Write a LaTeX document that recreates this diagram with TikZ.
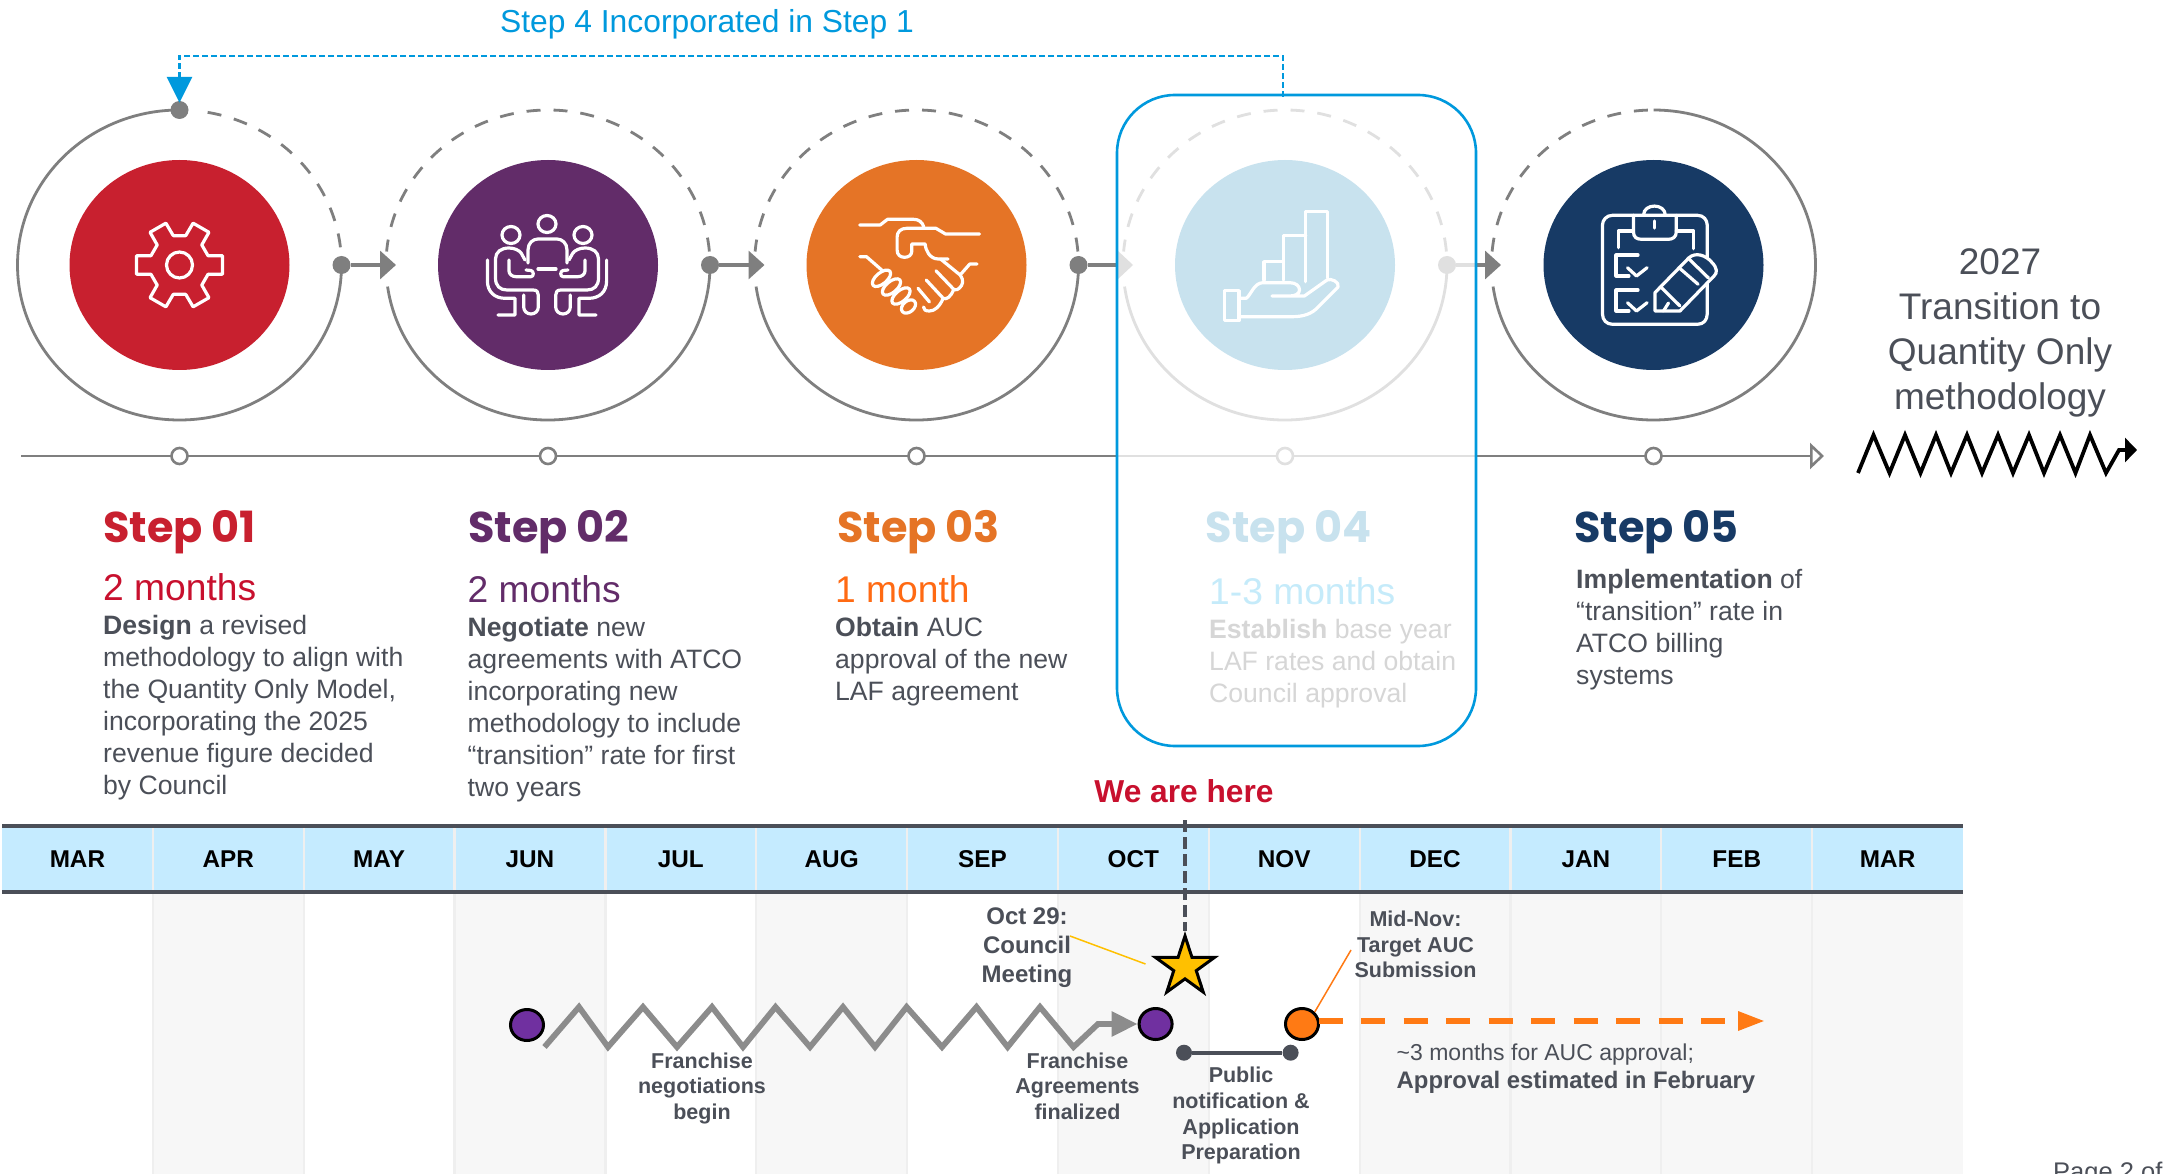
\documentclass[tikz,border=0pt]{standalone}
\usepackage{fontspec}
\setmainfont{Liberation Sans}
\newfontfamily\headfont{Poppins}
\usetikzlibrary{arrows.meta,shapes.geometric,calc}
\definecolor{ink}{HTML}{4B4F58}
\definecolor{ringgray}{HTML}{7F7F7F}
\definecolor{fade}{HTML}{E0E0E0}
\definecolor{bluebox}{HTML}{0099DD}
\definecolor{sred}{HTML}{C8202F}
\definecolor{spurple}{HTML}{622C69}
\definecolor{sorange}{HTML}{E57426}
\definecolor{spale}{HTML}{C8E2EE}
\definecolor{snavy}{HTML}{173A65}
\definecolor{mred}{HTML}{C8102E}
\definecolor{morange}{HTML}{FF6A13}
\definecolor{mpale}{HTML}{C5EBFA}
\definecolor{header}{HTML}{C5EBFF}
\definecolor{colshade}{HTML}{F7F7F7}
\definecolor{colsep}{HTML}{EFEFEF}
\definecolor{dotpurple}{HTML}{7030A0}
\definecolor{dotorange}{HTML}{FF7A14}
\definecolor{starfill}{HTML}{FFC000}
\newcommand{\fsz}[2]{\fontsize{#1}{#2}\selectfont}
\tikzset{
  x=1pt,y=-1pt,
  blob/.style={ellipse,minimum width=220pt,minimum height=210pt,inner sep=0pt},
  ringdot/.style={circle,minimum size=18pt,inner sep=0pt,fill=#1},
  axisdot/.style={circle,minimum size=16pt,inner sep=0pt,fill=white,draw=#1,line width=2.6pt},
  ring/.style={line width=2.8pt,draw=#1},
  ringdash/.style={line width=2.8pt,draw=#1,dash pattern=on 14pt off 13pt},
  conn/.style={line width=3.4pt,draw=#1},
  ic/.style={draw=white,line width=3.2pt,line join=round,line cap=round},
  stephead/.style={anchor=base west,inner sep=0pt,font=\headfont\bfseries\fsz{43}{46}},
  months/.style={anchor=base west,inner sep=0pt,font=\fsz{37.2}{40}},
  body/.style={anchor=base west,inner sep=0pt,align=left,font=\fsz{26.6}{32}},
  month/.style={inner sep=0pt,font=\bfseries\fsz{24.3}{28},text=black},
  note/.style={inner sep=0pt,align=center,anchor=base,text=ink,font=\bfseries\fsz{21.5}{25.7}},
  bigdot/.style={ellipse,minimum width=33pt,minimum height=31pt,inner sep=0pt,draw=black,line width=3pt,fill=#1},
  enddot/.style={circle,minimum size=16pt,inner sep=0pt,fill=ink},
}
\begin{document}
\begin{tikzpicture}
\clip (0,0) rectangle (2164,1174);
\fill[white] (0,0) rectangle (2164,1174);

% ---------- timeline columns
\foreach \i in {1,3,5,7,9,10,11,12}{
  \fill[colshade] ({2+150.85*\i},892) rectangle ({2+150.85*(\i+1)},1174);
}
\foreach \i in {1,...,12}{
  \draw[colsep,line width=2.2pt] ({2+150.85*\i},892) -- ({2+150.85*\i},1174);
}
\fill[header] (2,826) rectangle (1963,892);
\foreach \i in {1,...,12}{
  \draw[colsep,line width=2.2pt] ({2+150.85*\i},826) -- ({2+150.85*\i},892);
}
\draw[ink,line width=3.6pt] (2,826) -- (1963,826);
\draw[ink,line width=3.6pt] (2,892) -- (1963,892);
\foreach \n [count=\k from 0] in {MAR,APR,MAY,JUN,JUL,AUG,SEP,OCT,NOV,DEC,JAN,FEB,MAR}{
  \node[month] (m\k) at ({2+150.85*(\k+0.5)},859.5) {\n};
}

% ---------- centres and blobs
\node[blob,fill=sred] (c1) at (179.5,265) {};
\node[blob,fill=spurple] (c2) at (548,265) {};
\node[blob,fill=sorange] (c3) at (916.5,265) {};
\node[blob,fill=spale] (c4) at (1285,265) {};
\node[blob,fill=snavy] (c5) at (1653.5,265) {};

% ---------- rings
\draw[ring=ringgray] (c1.center) ++(90:162pt and 155pt) arc[start angle=90,end angle=360,x radius=162pt,y radius=155pt];
\draw[ringdash=ringgray] (c1.center) ++(80:162pt and 155pt) arc[start angle=80,end angle=5,x radius=162pt,y radius=155pt];
\foreach \c/\col in {c2/ringgray,c3/ringgray,c4/fade}{
  \draw[ring=\col] (\c.center) ++(188:162pt and 155pt) arc[start angle=188,end angle=360,x radius=162pt,y radius=155pt];
  \draw[ringdash=\col] (\c.center) ++(5:162pt and 155pt) arc[start angle=5,end angle=175,x radius=162pt,y radius=155pt];
}
\draw[ring=ringgray] (c5.center) ++(90:162pt and 155pt) arc[start angle=90,end angle=-172,x radius=162pt,y radius=155pt];
\draw[ringdash=ringgray] (c5.center) ++(92:162pt and 155pt) arc[start angle=92,end angle=175,x radius=162pt,y radius=155pt];

% ---------- ring dots and small arrows
\node[ringdot=ringgray] (top1) at (179.5,110) {};
\node[ringdot=ringgray] (r1) at (341.5,265) {};
\node[ringdot=ringgray] (r2) at (710,265) {};
\node[ringdot=ringgray] (r3) at (1078.5,265) {};
\node[ringdot=fade] (r4) at (1447,265) {};
\coordinate (a2) at (396,265);
\coordinate (a3) at (764.5,265);
\coordinate (e3) at (1117,265);
\coordinate (a4) at (1133,265);
\coordinate (e4) at (1476,265);
\coordinate (a5) at (1501,265);
\draw[conn=ringgray,-{Triangle[length=16pt,width=28pt]}] (r1) -- (a2);
\draw[conn=ringgray,-{Triangle[length=16pt,width=28pt]}] (r2) -- (a3);
\draw[conn=ringgray] (r3) -- (e3);
\fill[fade] (1118,251) -- (1133,265) -- (1118,279) -- cycle;
\draw[conn=fade] (r4) -- (e4);
\draw[conn=ringgray,-{Triangle[length=16pt,width=28pt]}] (e4) -- (a5);

% ---------- axis
\coordinate (ax0) at (21,456);
\coordinate (ax4a) at (1117,456);
\coordinate (ax4b) at (1476,456);
\coordinate (ax9) at (1824,456);
\draw[conn=ringgray,line width=2.8pt] (ax0) -- (ax4a);
\draw[conn=fade,line width=2.8pt] (ax4a) -- (ax4b);
\draw[conn=ringgray,line width=2.8pt,-{Triangle[open,length=14pt,width=26pt,line width=2.6pt]}] (ax4b) -- (ax9);
\node[axisdot=ringgray] (x1) at (179.5,456) {};
\node[axisdot=ringgray] (x2) at (548,456) {};
\node[axisdot=ringgray] (x3) at (916.5,456) {};
\node[axisdot=fade] (x4) at (1285,456) {};
\node[axisdot=ringgray] (x5) at (1653.5,456) {};

% ---------- gear
\begin{scope}[shift={(c1.center)}]
  \foreach \a in {0,60,...,300}{
    \draw[ic] (\a-18:30pt) -- (\a-12:44pt) -- (\a+12:44pt) -- (\a+18:30pt) -- (\a+42:30pt);
  }
  \draw[ic] (0,0) ellipse[x radius=13pt,y radius=13pt];
\end{scope}

% ---------- meeting
\begin{scope}[shift={(c2.center)}]
  \draw[ic] (-1,-41) ellipse[x radius=9pt,y radius=8.5pt];
  \draw[ic] (-37,-30) ellipse[x radius=9pt,y radius=8.5pt];
  \draw[ic] (35,-30) ellipse[x radius=9pt,y radius=8.5pt];
  \draw[ic] (-20,-2) -- (-20,-15) .. controls (-20,-22) and (-15,-26) .. (-10,-26) -- (9,-26) .. controls (14,-26) and (19,-22) .. (19,-15) -- (19,-2);
  \draw[ic] (-10,4) -- (8,4);
  \foreach \s/\o in {1/-1,-1/-1}{
    \begin{scope}[xshift=-1pt,xscale=\s]
      \draw[ic] (-22,-5) -- (-25.7,-11.7) .. controls (-28,-15) and (-33,-17) .. (-38,-17) .. controls (-46,-17) and (-51.5,-13) .. (-51.5,-6) -- (-51.5,13) .. controls (-51.5,21) and (-47,25) .. (-40,25) -- (-14,25) .. controls (-10,25) and (-8.7,27) .. (-8.7,30) -- (-8.7,42) .. controls (-8.7,46) and (-12,49) .. (-16,49) .. controls (-20,49) and (-23.3,46) .. (-23.3,42) -- (-23.3,30);
      \draw[ic] (-59.6,-5) -- (-59.6,16) .. controls (-59.6,27) and (-52,33.3) .. (-42,33.3) -- (-32,33.3) -- (-32,50) -- (-49,50);
      \draw[ic] (-38,-5) -- (-38,6) .. controls (-38,9) and (-35,11.7) .. (-31,11.7) -- (-16,11.7) .. controls (-13,11.7) and (-13,6) .. (-16,5.5) -- (-21,5);
    \end{scope}
  }
\end{scope}

% ---------- handshake
\begin{scope}[shift={(c3.center)}]
  \draw[ic] (-56.7,-40) -- (-36.3,-40) -- (-29,-45.7) -- (-3,-45.7) .. controls (2,-45.7) and (6,-43) .. (7.3,-38);
  \draw[ic] (63,-31) -- (29,-31) -- (19.4,-36.7) -- (-9.7,-36.7) .. controls (-16,-36.7) and (-19.4,-33) .. (-19.4,-28) -- (-19.4,-15) .. controls (-19.4,-10) and (-16,-7.7) .. (-12,-7.7) .. controls (-8,-7.7) and (-4.8,-10) .. (-4.8,-13.3) -- (-4.8,-21) -- (8.7,-21) .. controls (9,-15) and (13,-6) .. (21.8,-6) -- (31.5,-6);
  \draw[ic] (60.6,-1) -- (53.3,-1) -- (43.6,10);
  \draw[ic] (24,-6) -- (43.6,10) .. controls (48,16) and (46,20) .. (43,23) .. controls (40,26) and (37,25) .. (35,22) -- (19.4,5.7);
  \draw[ic] (37,25) .. controls (34,32) and (30,35) .. (26.7,33.3) -- (9.7,15);
  \draw[ic] (26.7,33.3) .. controls (23,42) and (18,46) .. (13,46) .. controls (9,46) and (7,45) .. (7,42);
  \draw[ic] (13,37) -- (1.5,23.3);
  \draw[ic] (-56.7,-8.3) -- (-50,-8.3) -- (-34,5.7);
  \draw[ic] (-35,13.3) ellipse[x radius=11pt,y radius=5.5pt,rotate=40];
  \draw[ic] (-25,22) ellipse[x radius=11pt,y radius=5.5pt,rotate=40];
  \draw[ic] (-15.5,31) ellipse[x radius=11pt,y radius=5.5pt,rotate=40];
  \draw[ic] (-8,41.5) ellipse[x radius=8pt,y radius=5.5pt,rotate=40];
\end{scope}

% ---------- chart on hand
\begin{scope}[shift={(c4.center)}]
  \draw[ic] (20.8,16.7) -- (20.8,-53.3) -- (42.6,-53.3) -- (42.6,13);
  \draw[ic] (-1.5,15) -- (-1.5,-29.3) -- (20.8,-29.3);
  \draw[ic] (-21,15) -- (-21,-3.3) -- (-1.5,-3.3);
  \draw[ic] (-60.6,25.7) rectangle (-46,55.7);
  \draw[ic] (-46,33.3) -- (-38.8,33.3) .. controls (-34,30) and (-31,17.7) .. (-22,17.7) -- (4.8,17.7) .. controls (11,17.7) and (14.5,21) .. (14.5,25) .. controls (14.5,29) and (10,31) .. (4.8,31) -- (-13,31) -- (19.4,31) -- (42,15) .. controls (46,13) and (55,17) .. (53,22) -- (33,42) .. controls (27,49) and (18,51.7) .. (7.3,51.7) -- (-46,51.7);
\end{scope}

% ---------- clipboard
\begin{scope}[shift={(c5.center)}]
  \draw[ic] (-20,-49.7) -- (-41,-49.7) .. controls (-47,-49.7) and (-51,-45) .. (-51,-40) -- (-51,49) .. controls (-51,55) and (-47,59.3) .. (-41,59.3) -- (44,59.3) .. controls (50,59.3) and (53.7,55) .. (53.7,49) -- (53.7,-40) .. controls (53.7,-45) and (50,-49.7) .. (44,-49.7) -- (22.8,-49.7);
  \draw[ic] (-10,-49.7) .. controls (-10,-62) and (11.8,-62) .. (11.8,-49.7);
  \draw[ic] (-20,-49.7) -- (11.8,-49.7) -- (22.8,-49.7) -- (22.8,-33) .. controls (22.8,-28) and (19,-25.7) .. (15,-25.7) -- (-12,-25.7) .. controls (-17,-25.7) and (-20,-28) .. (-20,-33) -- cycle;
  \draw[ic] (1,-44) -- (1,-37);
  \draw[ic] (-35,-17.3) -- (-35,-34) -- (-20,-34);
  \draw[ic] (22.8,-34) -- (40,-34) -- (40,-16.3);
  \draw[ic] (-15.5,-10) -- (-37.5,-10) -- (-37.5,11) -- (-24.6,11);
  \draw[ic] (-26,2.7) -- (-17,11) -- (-6.4,2.7);
  \draw[ic] (-15.5,25) -- (-37.5,25) -- (-37.5,46) -- (-24.6,46);
  \draw[ic] (-26,37.7) -- (-17,46) -- (-6.4,37.7);
  \draw[ic,fill=snavy] (1.4,46) -- (1.4,27.7) -- (35.5,-7.3) .. controls (42,-13) and (52,-10) .. (58,-3) .. controls (64,3) and (64,8) .. (60.5,11) -- (26.5,46) -- cycle;
  \draw[ic] (25.5,2.7) -- (44.6,19.3);
  \draw[ic] (35.5,-6) -- (55,13);
  \draw[ic] (8,22.7) -- (26.5,41);
  \draw[ic] (10,46) -- (15,38);
\end{scope}

% ---------- step 4 box and its feedback connector
\node[draw=bluebox,line width=2.6pt,rounded corners=58pt,minimum width=359pt,minimum height=651pt,inner sep=0pt] (box) at (1296.5,420.5) {};
\coordinate (boxtop) at (1283,97);
\coordinate (fb1) at (1283,56);
\coordinate (fb2) at (179.5,56);
\draw[draw=bluebox,line width=2.8pt,dash pattern=on 6pt off 3pt,shorten >=-2pt,-{Triangle[length=26pt,width=25pt,fill=bluebox]}] (boxtop) -- (fb1) -- (fb2) -- (top1.north);
\node[anchor=base,inner sep=0pt,text=bluebox,font=\fsz{31.8}{34}] (fbl) at (707,33) {Step 4 Incorporated in Step 1};

% ---------- step texts
\node[stephead,text=sred] (h1) at (103,542.5) {Step 01};
\node[stephead,text=spurple] (h2) at (468,542.5) {Step 02};
\node[stephead,text=sorange] (h3) at (837,542.5) {Step 03};
\node[stephead,text=spale] (h4) at (1205.5,542.5) {Step 04};
\node[stephead,text=snavy] (h5) at (1574,542.5) {Step 05};
\node[months,text=mred] (t1) at (103,600) {2 months};
\node[months,text=spurple] (t2) at (467.5,602) {2 months};
\node[months,text=morange] (t3) at (835,602) {1 month};
\node[months,text=mpale] (t4) at (1209,604) {1-3 months};
\node[body,text=ink] (b1) at (103,634.5+5*32) {\textbf{Design} a revised\\methodology to align with\\the Quantity Only Model,\\incorporating the 2025\\revenue figure decided\\by Council};
\node[body,text=ink] (b2) at (467.5,636.5+5*32) {\textbf{Negotiate} new\\agreements with ATCO\\incorporating new\\methodology to include\\“transition” rate for first\\two years};
\node[body,text=ink] (b3) at (835,636.5+2*32) {\textbf{Obtain} AUC\\approval of the new\\LAF agreement};
\node[body,text=fade!90!gray] (b4) at (1209,638.5+2*32) {\textbf{Establish} base year\\LAF rates and obtain\\Council approval};
\node[body,text=ink] (b5) at (1576,588.5+3*32) {\textbf{Implementation} of\\“transition” rate in\\ATCO billing\\systems};

% ---------- right side
\node[inner sep=0pt,align=center,anchor=base,text=ink,font=\fsz{37}{45}] (tr) at (2000,274+3*45) {2027\\Transition to\\Quantity Only\\methodology};
\coordinate (zk0) at (1858,473);
\coordinate (zk9) at (2137,450);
\draw[black,line width=3.8pt,line join=miter,-{Triangle[length=12pt,width=24pt]}] (zk0) -- (1873.5,435)
  -- (1889.5,473) -- (1905,435) -- (1920.5,473) -- (1936,435) -- (1951,473) -- (1967,435) -- (1982,473) -- (1998,435) -- (2013,473) -- (2029,435) -- (2044,473) -- (2060,435) -- (2075.5,473) -- (2090,435) -- (2106,473) -- (2119,450) -- (zk9);

% ---------- we are here
\node[anchor=base,inner sep=0pt,text=mred,font=\bfseries\fsz{31.7}{34}] (here) at (1184,802) {We are here};
\node[star,star points=5,star point ratio=2.618,minimum size=62pt,inner sep=0pt,fill=starfill,draw=black,line width=3pt] (star) at (1185,967) {};
\coordinate (hereend) at (1185,820);
\draw[ink,line width=3.6pt,dash pattern=on 12pt off 5pt] (hereend) -- (star.north);

% ---------- lower timeline
\node[bigdot=dotpurple] (p1) at (527,1025) {};
\node[bigdot=dotpurple] (p2) at (1155.6,1024) {};
\node[bigdot=dotorange] (o1) at (1302,1024) {};
\coordinate (zg0) at (544.5,1047);
\draw[ringgray!90!white,line width=5.8pt,line join=miter,-{Triangle[length=26pt,width=24pt]}] (zg0) -- (579,1007) -- (608,1047) -- (643,1007) -- (677,1047) -- (712,1007) -- (743,1047) -- (775.5,1007) -- (810,1047) -- (843,1007) -- (875,1047) -- (906.6,1007) -- (942,1047) -- (976.5,1007) -- (1007.6,1047) -- (1040,1007) -- (1073.5,1047) -- (1098,1024) -- (p2.west);
\node[note] (fn) at (702,1068+2*25.7) {Franchise\\negotiations\\begin};
\node[note] (fa) at (1077.5,1068+2*25.7) {Franchise\\Agreements\\finalized};
\node[note,font=\bfseries\fsz{24}{29}] (oct) at (1027,924+2*29) {Oct 29:\\Council\\Meeting};
\node[note] (mid) at (1415.5,926.5+2*25.7) {Mid-Nov:\\Target AUC\\Submission};
\node[note] (pub) at (1241,1082.7+3*25.7) {Public\\notification \&\\Application\\Preparation};
\coordinate (ol1) at (1070,936);
\coordinate (ol2) at (1145.5,964);
\draw[starfill,line width=1.5pt] (ol1) -- (ol2);
\coordinate (ml1) at (1351,950);
\draw[dotorange,line width=1.5pt] (ml1) -- (o1.north east);
\node[enddot] (d1) at (1184,1052.7) {};
\node[enddot] (d2) at (1290.6,1052.7) {};
\draw[ink,line width=4.4pt] (d1) -- (d2);
\coordinate (os) at (1318.5,1021);
\coordinate (oe) at (1765,1021);
\draw[dotorange,line width=6pt,dash pattern=on 24pt off 18.5pt,-{Triangle[length=27pt,width=18pt]}] (os) -- (oe);
\node[anchor=base west,inner sep=0pt,text=ink,font=\fsz{23}{27}] (ap1) at (1396.5,1060.7) {\textasciitilde 3 months for AUC approval;};
\node[anchor=base west,inner sep=0pt,text=ink,font=\bfseries\fsz{23.9}{27}] (ap2) at (1396.5,1088) {Approval estimated in February};
\node[anchor=base west,inner sep=0pt,text=ink,font=\fsz{25.5}{28}] (pg) at (2053,1180) {Page 2 of};
\end{tikzpicture}
\end{document}
